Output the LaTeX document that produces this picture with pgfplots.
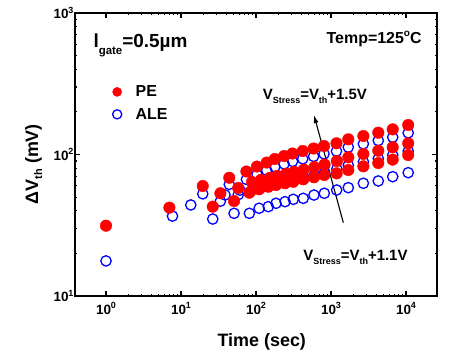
\documentclass[border=0pt]{standalone}
\usepackage{pgfplots}
\pgfplotsset{compat=1.18}
\usetikzlibrary{arrows.meta}
\usepackage{fontspec}
\setmainfont{Liberation Sans}
\newcommand{\fs}[1]{\fontsize{#1}{#1}\selectfont}
\newcommand{\lo}[3]{\raisebox{-#3}{\fs{#1}#2}}
\newcommand{\hi}[2]{\raisebox{0.75ex}{\fs{#1}#2}}
\begin{document}
\begin{tikzpicture}
\path[use as bounding box] (-75bp,-56bp) rectangle (374bp,296bp);
\begin{axis}[
  at={(0,0)}, anchor=south west,
  scale only axis, width=362bp, height=283bp,
  xmode=log, ymode=log,
  xmin=0.386, xmax=25900, ymin=10, ymax=1000,
  axis line style={line width=1.6pt},
  every tick/.style={black, line width=1.1pt},
  major tick length=5bp, minor tick length=2.5bp,
  tick align=inside,
  xtick={1,10,100,1000,10000},
  xticklabels={10\hi{9}{0},10\hi{9}{1},10\hi{9}{2},10\hi{9}{3},10\hi{9}{4}},
  ytick={10,100,1000},
  yticklabels={10\hi{9}{1},10\hi{9}{2},10\hi{9}{3}},
  xticklabel style={font=\fs{13.5}\bfseries, yshift=-3bp},
  yticklabel style={font=\fs{13.5}\bfseries, xshift=2bp},
  xlabel={\fs{18}\bfseries Time (sec)},
  ylabel={\fs{18}\bfseries ΔV\lo{11}{th}{4bp} (mV)},
  xlabel style={at={(axis description cs:0.516,-0.1767)}, anchor=base},
  ylabel style={at={(axis description cs:-0.1022,0.466)}, anchor=base},
  clip=false,
  reverse legend,
  legend style={draw=none, fill=none, at={(axis description cs:0.095,0.758)}, anchor=north west, row sep=6bp},
  legend cell align=left,
  legend image post style={mark size=4.6pt},
]
% ALE (open blue circles)
\addplot[only marks, mark=o, mark size=5.2pt, blue, line width=1.3bp] coordinates {
(1,17.7) (7.7,36.7) (13.5,44) (38.6,51.8) (61,56)
(19.5,52.7) (44,61.5) (74.5,66.7) (103,72.3) (139,77.2) (178,81.8) (237,85.8) (307,89.4) (420,93.2) (586,97.0) (807,101.0) (1183,105.6) (1700,112.6) (2700,118.9) (4270,125.5) (6650,132.5) (10700,142.2)
(33.5,46.8) (58,52) (88.5,56.2) (117,58.3) (153,60.3) (192,62.1) (251,64.3) (321,66.4) (434,68.8) (600,71.7) (821,74.7) (1197,79.1) (1700,84.0) (2700,88.8) (4270,93.6) (6650,99.0) (10700,105.6)
(26.5,35.0) (51,38.4) (81.5,38.4) (110,41.7) (146,42.8) (185,45.2) (244,46.4) (314,48.2) (427,49.0) (593,51.7) (814,53.2) (1190,56.1) (1700,58.3) (2700,62.6) (4270,65.0) (6650,69.7) (10700,74.4)
};
\addlegendentry{\hspace{12bp}\fs{16}\bfseries ALE}
% PE (filled red circles)
\addplot[only marks, mark=*, mark size=5.8pt, red, fill=red] coordinates {
(1,31.4) (7,42.1)
(19.5,59.9) (44,68.5) (74.5,75.8) (103,82.2) (139,87.7) (178,92.9) (237,97.5) (307,101.6) (420,105.9) (586,110.2) (807,114.8) (1183,120.0) (1700,128.0) (2700,135.1) (4270,142.6) (6650,150.6) (10700,161.6)
(33.5,53.2) (58,58.0) (88.5,63.9) (117,66.3) (153,68.5) (192,70.6) (251,73.1) (321,75.4) (434,78.2) (600,81.5) (821,84.9) (1197,89.9) (1700,95.5) (2700,100.9) (4270,106.4) (6650,112.5) (10700,120.0)
(26.5,42.8) (51,46.9) (81.5,53.7) (110,56.8) (146,59.2) (185,60.9) (244,62.6) (314,64.2) (427,66.8) (593,69.0) (814,71.6) (1190,73.6) (1700,77.7) (2700,82.5) (4270,87.0) (6650,92.0) (10700,99.1)
};
\addlegendentry{\hspace{12bp}\fs{16}\bfseries PE}
\draw[-{Latex[length=8bp,width=5bp]}, line width=1.1bp] (axis cs:1459,33) -- (axis cs:593,190);
\node[anchor=base west, inner sep=0pt, font=\fs{19}\bfseries] at (axis cs:0.677,572) {l\lo{11.5}{gate}{7bp}=0.5µm};
\node[anchor=base east, inner sep=0pt, font=\fs{16}\bfseries] at (axis cs:16200,611) {Temp=125\hi{10}{o}C};
\node[anchor=base west, inner sep=0pt, font=\fs{15}\bfseries] at (axis cs:122.8,245.6) {V\lo{9}{Stress}{4.5bp}=V\lo{9}{th}{4.5bp}+1.5V};
\node[anchor=base west, inner sep=0pt, font=\fs{15}\bfseries] at (axis cs:427,17.9) {V\lo{9}{Stress}{4.5bp}=V\lo{9}{th}{4.5bp}+1.1V};
\end{axis}
\end{tikzpicture}
\end{document}
